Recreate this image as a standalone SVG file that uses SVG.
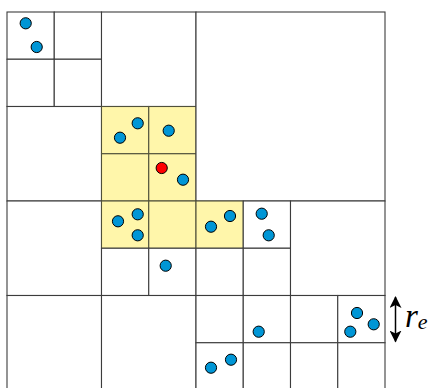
<svg xmlns="http://www.w3.org/2000/svg" width="430" height="388" viewBox="0 0 430 388">
<style>
.c{fill:#ffffff;stroke:#3c3c3c;stroke-width:1.1}
.y{fill:#fff6aa;stroke:#50503a;stroke-width:1.1}
.d{fill:#0096d6;stroke:#000;stroke-width:1}
.r{fill:#ff0000;stroke:#000;stroke-width:1}
.lbl{font-family:"Liberation Serif",serif;font-style:italic;fill:#000}
</style>
<defs>
<marker id="ah" viewBox="0 0 12 12" markerWidth="12" markerHeight="12" refX="11" refY="6" orient="auto-start-reverse" markerUnits="userSpaceOnUse">
<path d="M0,0 L12,6 L0,12 L3,6 Z" fill="#000"/>
</marker>
</defs>
<g id="cells">
<g id="q-nw">
<rect class="c" x="7" y="12" width="47.25" height="47.25"/>
<rect class="c" x="54.25" y="12" width="47.25" height="47.25"/>
<rect class="c" x="7" y="59.25" width="47.25" height="47.25"/>
<rect class="c" x="54.25" y="59.25" width="47.25" height="47.25"/>
<rect class="c" x="101.5" y="12" width="94.5" height="94.5"/>
<rect class="c" x="7" y="106.5" width="94.5" height="94.5"/>
<rect class="y" x="101.5" y="106.5" width="47.25" height="47.25"/>
<rect class="y" x="148.75" y="106.5" width="47.25" height="47.25"/>
<rect class="y" x="101.5" y="153.75" width="47.25" height="47.25"/>
<rect class="y" x="148.75" y="153.75" width="47.25" height="47.25"/>
</g>
<g id="q-ne">
<rect class="c" x="196" y="12" width="189" height="189"/>
</g>
<g id="q-sw">
<rect class="c" x="7" y="201" width="94.5" height="94.5"/>
<rect class="y" x="101.5" y="201" width="47.25" height="47.25"/>
<rect class="y" x="148.75" y="201" width="47.25" height="47.25"/>
<rect class="c" x="101.5" y="248.25" width="47.25" height="47.25"/>
<rect class="c" x="148.75" y="248.25" width="47.25" height="47.25"/>
<rect class="c" x="7" y="295.5" width="94.5" height="94.5"/>
<rect class="c" x="101.5" y="295.5" width="94.5" height="94.5"/>
</g>
<g id="q-se">
<rect class="y" x="196" y="201" width="47.25" height="47.25"/>
<rect class="c" x="243.25" y="201" width="47.25" height="47.25"/>
<rect class="c" x="196" y="248.25" width="47.25" height="47.25"/>
<rect class="c" x="243.25" y="248.25" width="47.25" height="47.25"/>
<rect class="c" x="290.5" y="201" width="94.5" height="94.5"/>
<rect class="c" x="196" y="295.5" width="47.25" height="47.25"/>
<rect class="c" x="243.25" y="295.5" width="47.25" height="47.25"/>
<rect class="c" x="196" y="342.75" width="47.25" height="47.25"/>
<rect class="c" x="243.25" y="342.75" width="47.25" height="47.25"/>
<rect class="c" x="290.5" y="295.5" width="47.25" height="47.25"/>
<rect class="c" x="337.75" y="295.5" width="47.25" height="47.25"/>
<rect class="c" x="290.5" y="342.75" width="47.25" height="47.25"/>
<rect class="c" x="337.75" y="342.75" width="47.25" height="47.25"/>
</g>
</g>
<g id="points">
<circle class="d" cx="25.7" cy="23.3" r="5.6"/>
<circle class="d" cx="36.7" cy="47" r="5.6"/>
<circle class="d" cx="137.7" cy="123.3" r="5.6"/>
<circle class="d" cx="120" cy="137.7" r="5.6"/>
<circle class="d" cx="168.7" cy="130.7" r="5.6"/>
<circle class="r" cx="161.7" cy="168" r="5.6"/>
<circle class="d" cx="183" cy="179.7" r="5.6"/>
<circle class="d" cx="137.7" cy="214.3" r="5.6"/>
<circle class="d" cx="118" cy="221.3" r="5.6"/>
<circle class="d" cx="137.7" cy="235.3" r="5.6"/>
<circle class="d" cx="230" cy="216" r="5.6"/>
<circle class="d" cx="211" cy="226.7" r="5.6"/>
<circle class="d" cx="261.7" cy="213.7" r="5.6"/>
<circle class="d" cx="268.7" cy="235.3" r="5.6"/>
<circle class="d" cx="165.7" cy="265.7" r="5.6"/>
<circle class="d" cx="258.7" cy="331.7" r="5.6"/>
<circle class="d" cx="211" cy="367.7" r="5.6"/>
<circle class="d" cx="231" cy="359.7" r="5.6"/>
<circle class="d" cx="357" cy="313" r="5.6"/>
<circle class="d" cx="373.7" cy="324.3" r="5.6"/>
<circle class="d" cx="350.3" cy="331.7" r="5.6"/>
</g>
<g id="connectors">
<line x1="395.5" y1="297" x2="395.5" y2="341.5" stroke="#000" stroke-width="1.5" marker-start="url(#ah)" marker-end="url(#ah)"/>
</g>
<g id="label">
<text class="lbl" x="405" y="327" font-size="33">r<tspan font-size="22" dy="2">e</tspan></text>
</g>
</svg>
